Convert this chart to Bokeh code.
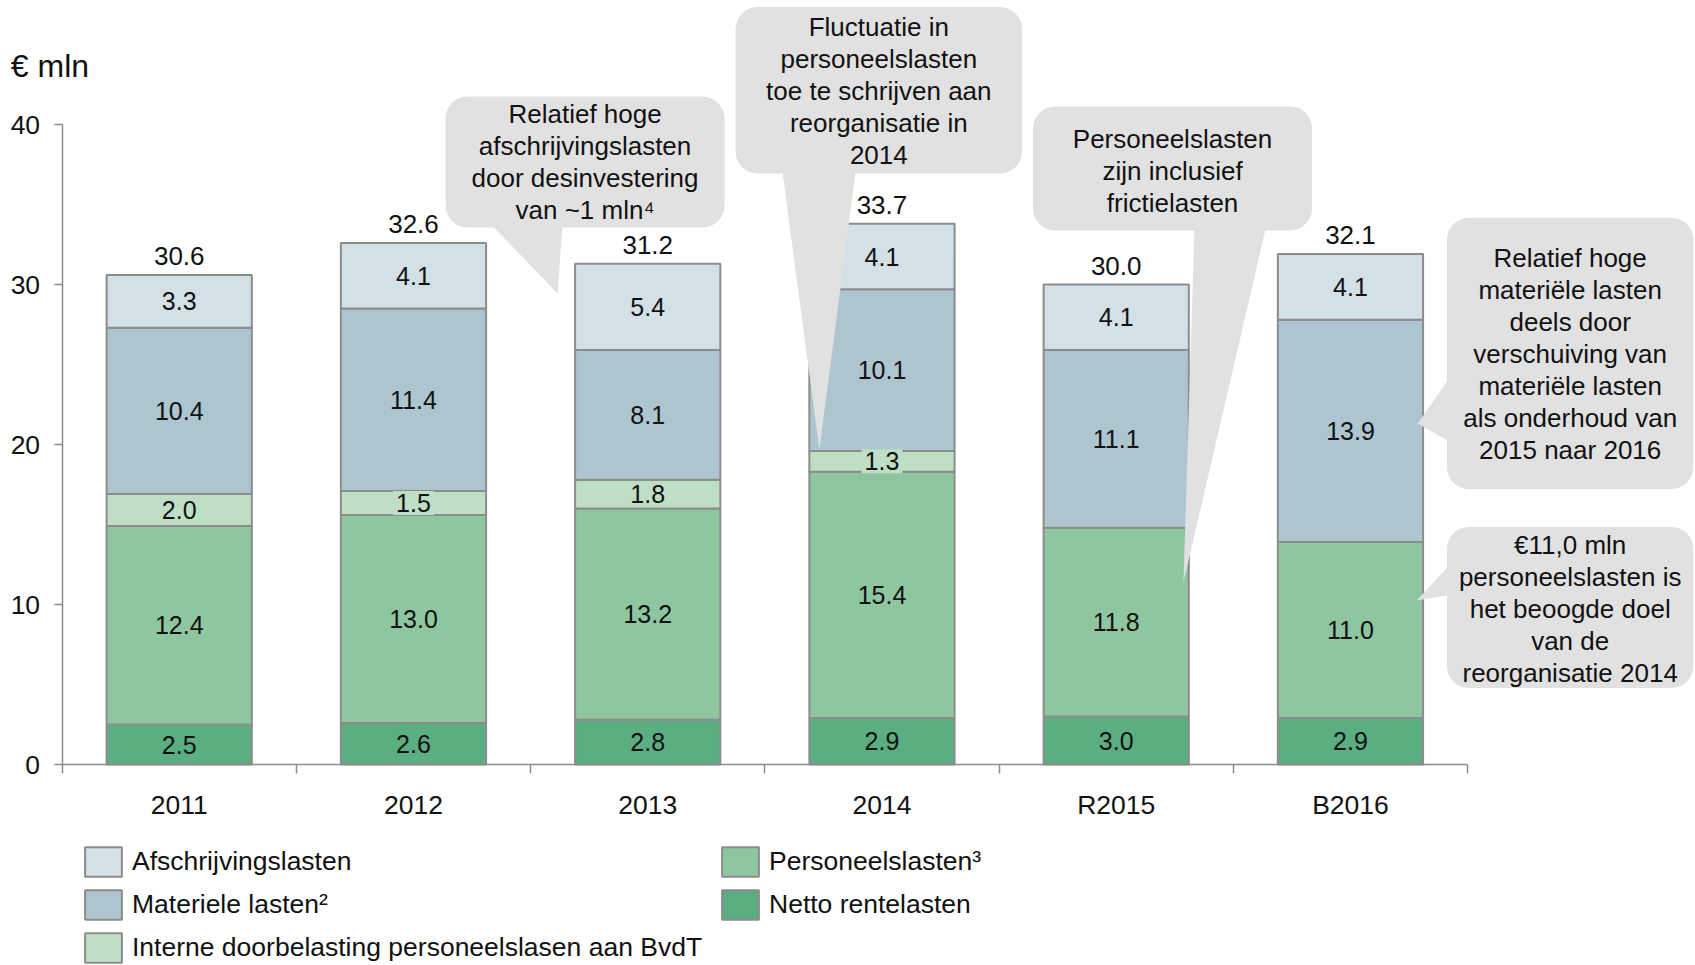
import numpy as np
from bokeh.plotting import figure
from bokeh.models import (ColumnDataSource, Range1d, FixedTicker, Legend,
                          LegendItem, LinearAxis)
from bokeh.core.properties import value
from bokeh.embed import file_html
from bokeh.resources import INLINE

# ---------------- data ----------------
categories = ["2011", "2012", "2013", "2014", "R2015", "B2016"]
netto_rentelasten = [2.5, 2.6, 2.8, 2.9, 3.0, 2.9]
personeelslasten = [12.4, 13.0, 13.2, 15.4, 11.8, 11.0]
interne_doorbelasting = [2.0, 1.5, 1.8, 1.3, 0.0, 0.0]
materiele_lasten = [10.4, 11.4, 8.1, 10.1, 11.1, 13.9]
afschrijvingslasten = [3.3, 4.1, 5.4, 4.1, 4.1, 4.1]
totals = [30.6, 32.6, 31.2, 33.7, 30.0, 32.1]
y_ticks = [0, 10, 20, 30, 40]
unit_label = "€ mln"

series_labels = ["Netto rentelasten", "Personeelslasten³",
                 "Interne doorbelasting personeelslasen aan BvdT",
                 "Materiele lasten²", "Afschrijvingslasten"]

callout_texts = [
    ["Relatief hoge", "afschrijvingslasten", "door desinvestering", "van ~1 mln⁴"],
    ["Fluctuatie in", "personeelslasten", "toe te schrijven aan", "reorganisatie in", "2014"],
    ["Personeelslasten", "zijn inclusief", "frictielasten"],
    ["Relatief hoge", "materiële lasten", "deels door", "verschuiving van",
     "materiële lasten", "als onderhoud van", "2015 naar 2016"],
    ["€11,0 mln", "personeelslasten is", "het beoogde doel", "van de",
     "reorganisatie 2014"],
]

# ---------------- styling / layout ----------------
FONT = "Liberation Sans"
TXT = "#111111"
OUTLINE = "#8C8C8C"
CALLOUT = "#E1E1E1"
colors = ["#5BAE81", "#8EC69F", "#BEDFC5", "#ADC5CF", "#D3E0E6"]

# callout boxes (data units): left, right, top, bottom, text centre y
callout_boxes = [
    (1.637, 2.828, 41.75, 33.56, 37.65),
    (2.875, 4.098, 47.34, 36.94, 42.08),
    (4.145, 5.336, 41.13, 33.38, 37.12),
    (5.912, 6.964, 34.17, 17.21, 25.64),
    (5.912, 6.964, 14.85, 4.78, 9.75),
]
# pointers: (x list, y list)
callout_pointers = [
    ([1.842, 2.136, 2.115], [33.60, 33.60, 29.44]),
    ([3.076, 3.387, 3.233], [36.98, 36.98, 19.69]),
    ([4.834, 5.137, 4.787], [33.42, 33.42, 11.38]),
    ([5.930, 5.930, 5.787], [24.31, 20.13, 21.31]),
    ([5.930, 5.930, 5.782], [12.56, 10.63, 10.25]),
]
LINE_PITCH = 2.0  # data units between callout text lines

n = len(categories)
xc = np.arange(n) + 0.5

p = figure(width=1695, height=965, output_backend="svg", toolbar_location=None,
           x_range=Range1d(-0.263, 6.973), y_range=Range1d(-12.5625, 47.75),
           x_axis_type=None, y_axis_type=None, min_border=0,
           outline_line_color=None, background_fill_color="white")

# ---------------- bars ----------------
stack_keys = ["netto", "pers", "interne", "mat", "afschr"]
values = [netto_rentelasten, personeelslasten, interne_doorbelasting,
          materiele_lasten, afschrijvingslasten]
src = ColumnDataSource(dict(x=xc, **{k: v for k, v in zip(stack_keys, values)}))
renderers = p.vbar_stack(stack_keys, x="x", width=0.62, source=src,
                         fill_color=colors, line_color=OUTLINE, line_width=2)

# ---------------- segment labels ----------------
stack = np.array(values)
bottoms = np.cumsum(stack, axis=0) - stack
mids = bottoms + stack / 2
tops = stack.sum(axis=0)

lx, ly, lt = [], [], []
bx, by, bt = [], [], []
for s in range(stack.shape[0]):
    for i in range(n):
        v = stack[s, i]
        if v <= 0:
            continue
        if s == 2 and v < 1.7:
            bx.append(xc[i]); by.append(mids[s, i]); bt.append(f"{v:.1f}")
        else:
            lx.append(xc[i]); ly.append(mids[s, i]); lt.append(f"{v:.1f}")

p.text(x=lx, y=ly, text=lt, text_align="center", text_baseline="middle",
       text_font=value(FONT), text_font_size="25px", text_color=TXT)
p.text(x=bx, y=by, text=bt, text_align="center", text_baseline="middle",
       text_font=value(FONT), text_font_size="25px", text_color=TXT,
       background_fill_color=colors[2], padding=3)

# totals
p.text(x=xc, y=tops, text=[f"{t:.1f}" for t in totals], text_align="center",
       text_baseline="middle", y_offset=-19, text_font=value(FONT),
       text_font_size="26px", text_color=TXT)

# unit label
p.text(x=[-0.219], y=[43.65], text=[unit_label], text_align="left",
       text_baseline="middle", text_font=value(FONT), text_font_size="32px",
       text_color=TXT)

# ---------------- callouts ----------------
p.quad(left=[b[0] for b in callout_boxes], right=[b[1] for b in callout_boxes],
       top=[b[2] for b in callout_boxes], bottom=[b[3] for b in callout_boxes],
       fill_color=CALLOUT, line_color=None, border_radius=22)
p.patches(xs=[c[0] for c in callout_pointers], ys=[c[1] for c in callout_pointers],
          fill_color=CALLOUT, line_color=None)

tx, ty, tt = [], [], []
for box, lines in zip(callout_boxes, callout_texts):
    cx = (box[0] + box[1]) / 2
    m = len(lines)
    for k, line in enumerate(lines):
        tx.append(cx)
        ty.append(box[4] + ((m - 1) / 2 - k) * LINE_PITCH)
        tt.append(line)
p.text(x=tx, y=ty, text=tt, text_align="center", text_baseline="middle",
       text_font=value(FONT), text_font_size="26px", text_color=TXT)

# ---------------- axes ----------------
xaxis = LinearAxis(fixed_location=0, bounds=(0, n),
                   ticker=FixedTicker(ticks=list(xc), minor_ticks=list(range(n + 1))),
                   major_label_overrides={float(c): lab for c, lab in zip(xc, categories)},
                   major_tick_out=0, major_tick_in=0, major_tick_line_color=None,
                   minor_tick_out=9, minor_tick_in=0, minor_tick_line_color=OUTLINE,
                   minor_tick_line_width=1.5,
                   axis_line_color=OUTLINE, axis_line_width=1.5,
                   major_label_standoff=16, major_label_text_font=FONT,
                   major_label_text_font_size="26.5px", major_label_text_color=TXT)
p.add_layout(xaxis, "below")

yaxis = LinearAxis(fixed_location=0, bounds=(0, 40),
                   ticker=FixedTicker(ticks=y_ticks, minor_ticks=[]),
                   major_tick_out=8, major_tick_in=0, major_tick_line_color=OUTLINE,
                   major_tick_line_width=1.5, minor_tick_line_color=None,
                   axis_line_color=OUTLINE, axis_line_width=1.5,
                   major_label_standoff=14, major_label_text_font=FONT,
                   major_label_text_font_size="26.5px", major_label_text_color=TXT)
p.add_layout(yaxis, "left")

# ---------------- legends ----------------
r_netto, r_pers, r_int, r_mat, r_afs = renderers
leg_common = dict(orientation="vertical", glyph_width=46, glyph_height=37,
                  label_standoff=6, spacing=6, padding=0, margin=0,
                  border_line_color=None, background_fill_alpha=0,
                  label_text_font=FONT, label_text_font_size="26.5px",
                  label_text_color=TXT, label_height=30)
leg1 = Legend(items=[LegendItem(label=series_labels[4], renderers=[r_afs]),
                     LegendItem(label=series_labels[3], renderers=[r_mat]),
                     LegendItem(label=series_labels[2], renderers=[r_int])],
              location=(80, -1), **leg_common)
leg2 = Legend(items=[LegendItem(label=series_labels[1], renderers=[r_pers]),
                     LegendItem(label=series_labels[0], renderers=[r_netto])],
              location=(717, 42), **leg_common)
p.add_layout(leg1)
p.add_layout(leg2)

open("out.html", "w").write(file_html(p, INLINE))
